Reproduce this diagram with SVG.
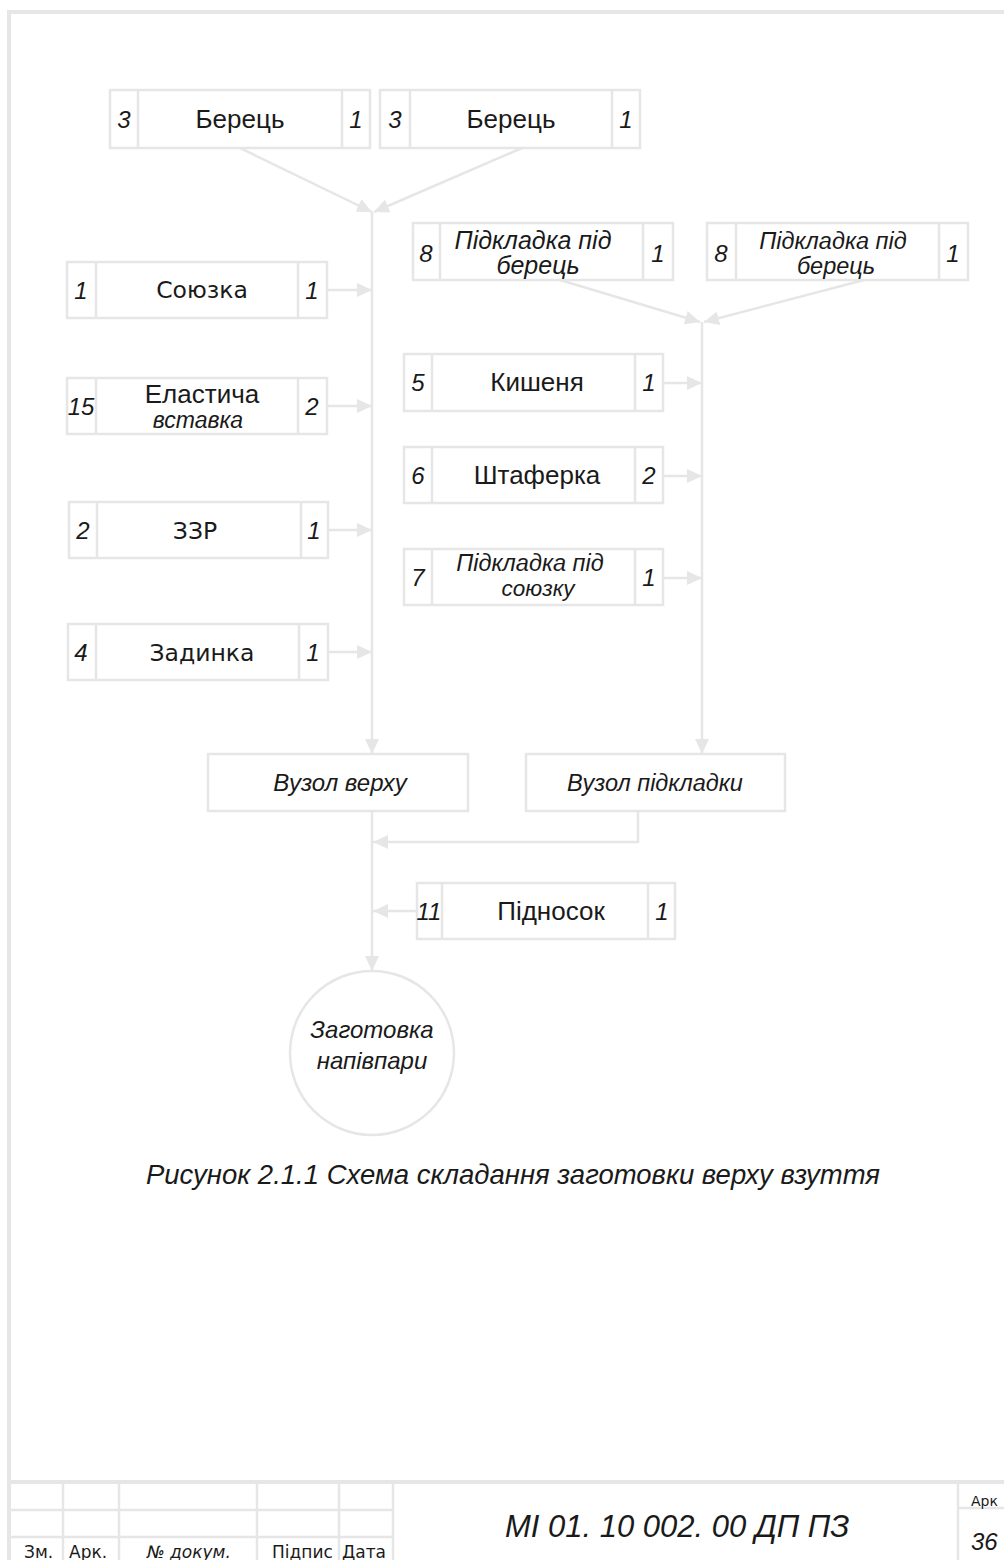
<svg xmlns="http://www.w3.org/2000/svg" width="1004" height="1560" viewBox="0 0 1004 1560">
<style>
.b{fill:#fff;stroke:#e6e6e6;stroke-width:2.5}
.l{fill:none;stroke:#e6e6e6;stroke-width:2.5}
.f{fill:none;stroke:#e6e6e6;stroke-width:4}
.t{font-family:"Liberation Sans",Arial,sans-serif;font-size:24px;fill:#1a1a1a;text-anchor:middle}
.n{font-size:26px}
.d{font-family:"DejaVu Sans",Verdana,sans-serif;font-size:23.5px;fill:#1a1a1a;text-anchor:middle}
.i{font-style:italic}
.st{text-anchor:start}
.s{font-family:"DejaVu Sans",Verdana,sans-serif;font-size:17px;fill:#1a1a1a}
</style>
<defs>
<marker id="a" markerUnits="userSpaceOnUse" markerWidth="16" markerHeight="14" refX="15" refY="7" orient="auto">
<path d="M0,0 L15,7 L0,14 Z" fill="#e6e6e6"/>
</marker>
</defs>
<rect width="1004" height="1560" fill="#fff"/>
<g id="frame">
<path class="f" d="M9,1560 V12 H1004"/>
<path class="f" d="M9,1482 H1004"/>
<path class="l" d="M9,1510 H393 M9,1537 H393 M63,1482 V1560 M119,1482 V1560 M257,1482 V1560 M339,1482 V1560 M393,1482 V1560 M958,1482 V1560 M958,1508 H1004" stroke-width="3"/>
<text class="s" x="24" y="1558">Зм.</text>
<text class="s" x="69" y="1558">Арк.</text>
<text class="s i" x="147" y="1558" font-size="16">№ докум.</text>
<text class="s" x="272" y="1558">Підпис</text>
<text class="s" x="342" y="1558">Дата</text>
<text class="s" x="971" y="1506" style="font-size:14px">Арк</text>
<text class="t i st" x="505" y="1537" style="font-size:31px">МІ 01. 10 002. 00 ДП ПЗ</text>
<text class="t i st" x="971" y="1550">36</text>
</g>
<g id="connectors">
<path class="l" d="M240,148 L372,212" marker-end="url(#a)"/>
<path class="l" d="M522,148 L374,212" marker-end="url(#a)"/>
<path class="l" d="M372,212 V754" marker-end="url(#a)"/>
<path class="l" d="M327,290 H372" marker-end="url(#a)"/>
<path class="l" d="M327,406 H372" marker-end="url(#a)"/>
<path class="l" d="M328,530 H372" marker-end="url(#a)"/>
<path class="l" d="M328,652 H372" marker-end="url(#a)"/>
<path class="l" d="M560,280 L700,322" marker-end="url(#a)"/>
<path class="l" d="M864,280 L704,322" marker-end="url(#a)"/>
<path class="l" d="M702,322 V754" marker-end="url(#a)"/>
<path class="l" d="M663,383 H702" marker-end="url(#a)"/>
<path class="l" d="M663,476 H702" marker-end="url(#a)"/>
<path class="l" d="M663,578 H702" marker-end="url(#a)"/>
<path class="l" d="M372,811 V971" marker-end="url(#a)"/>
<path class="l" d="M638,811 V842 H373" marker-end="url(#a)"/>
<path class="l" d="M417,911 H373" marker-end="url(#a)"/>
</g>
<g id="n-berets1">
<rect class="b" x="110" y="90" width="260" height="58"/>
<path class="l" d="M138,90 V148 M342,90 V148"/>
<text class="t i" x="124" y="128">3</text>
<text class="t n" x="240" y="128">Берець</text>
<text class="t i" x="356" y="128">1</text>
</g>
<g id="n-berets2">
<rect class="b" x="380" y="90" width="260" height="58"/>
<path class="l" d="M410,90 V148 M612,90 V148"/>
<text class="t i" x="395" y="128">3</text>
<text class="t n" x="511" y="128">Берець</text>
<text class="t i" x="626" y="128">1</text>
</g>
<g id="n-pidkl1">
<rect class="b" x="413" y="223" width="260" height="57"/>
<path class="l" d="M440,223 V280 M643,223 V280"/>
<text class="t i" x="533" y="249" style="font-size:25px">Підкладка під</text>
<text class="t i" x="426" y="262">8</text>
<text class="t i" x="538" y="274" style="font-size:25px">берець</text>
<text class="t i" x="658" y="262">1</text>
</g>
<g id="n-pidkl2">
<rect class="b" x="707" y="223" width="261" height="57"/>
<path class="l" d="M736,223 V280 M939,223 V280"/>
<text class="t i" x="721" y="262">8</text>
<text class="t i" x="833" y="249" style="font-size:23.5px">Підкладка під</text>
<text class="t i" x="836" y="274" style="font-size:23.5px">берець</text>
<text class="t i" x="953" y="262">1</text>
</g>
<g id="n-soyuzka">
<rect class="b" x="67" y="262" width="260" height="56"/>
<path class="l" d="M96,262 V318 M298,262 V318"/>
<text class="t i" x="81" y="299">1</text>
<text class="d" x="202" y="298">Союзка</text>
<text class="t i" x="312" y="299">1</text>
</g>
<g id="n-elast">
<rect class="b" x="67" y="378" width="260" height="56"/>
<path class="l" d="M96,378 V434 M298,378 V434"/>
<text class="t i" x="81" y="415">15</text>
<text class="t n" x="202" y="403">Еластича</text>
<text class="t i" x="198" y="428" style="font-size:23px">вставка</text>
<text class="t i" x="312" y="415">2</text>
</g>
<g id="n-zzr">
<rect class="b" x="69" y="502" width="259" height="56"/>
<path class="l" d="M97,502 V558 M301,502 V558"/>
<text class="t i" x="83" y="539">2</text>
<text class="d" x="195" y="539">ЗЗР</text>
<text class="t i" x="314" y="539">1</text>
</g>
<g id="n-zadynka">
<rect class="b" x="68" y="624" width="260" height="56"/>
<path class="l" d="M96,624 V680 M299,624 V680"/>
<text class="t i" x="81" y="661">4</text>
<text class="d" x="202" y="661">Задинка</text>
<text class="t i" x="313" y="661">1</text>
</g>
<g id="n-kyshenya">
<rect class="b" x="404" y="354" width="259" height="57"/>
<path class="l" d="M432,354 V411 M635,354 V411"/>
<text class="t i" x="418" y="391">5</text>
<text class="t n" x="537" y="391">Кишеня</text>
<text class="t i" x="649" y="391">1</text>
</g>
<g id="n-shtaferka">
<rect class="b" x="404" y="447" width="259" height="56"/>
<path class="l" d="M432,447 V503 M635,447 V503"/>
<text class="t i" x="418" y="484">6</text>
<text class="t n" x="537" y="484">Штаферка</text>
<text class="t i" x="649" y="484">2</text>
</g>
<g id="n-pidkl-soyuz">
<rect class="b" x="404" y="549" width="259" height="56"/>
<path class="l" d="M432,549 V605 M635,549 V605"/>
<text class="t i" x="418" y="586">7</text>
<text class="t i" x="530" y="571" style="font-size:23.5px">Підкладка під</text>
<text class="t i" x="538" y="596" style="font-size:22.5px">союзку</text>
<text class="t i" x="649" y="586">1</text>
</g>
<g id="n-vuzol-verkh">
<rect class="b" x="208" y="754" width="260" height="57"/>
<text class="t i" x="340" y="791">Вузол верху</text>
</g>
<g id="n-vuzol-pidkl">
<rect class="b" x="526" y="754" width="259" height="57"/>
<text class="t i" x="655" y="791" style="font-size:23.5px">Вузол підкладки</text>
</g>
<g id="n-pidnosok">
<rect class="b" x="417" y="883" width="258" height="56"/>
<path class="l" d="M442,883 V939 M648,883 V939"/>
<text class="t i" x="429" y="920">11</text>
<text class="t n" x="551" y="920">Підносок</text>
<text class="t i" x="662" y="920">1</text>
</g>
<g id="n-zagotovka">
<circle class="b" cx="372" cy="1053" r="82"/>
<text class="t i" x="372" y="1038">Заготовка</text>
<text class="t i" x="372" y="1069">напівпари</text>
</g>
<text class="t i" x="513" y="1184" style="font-size:27.5px">Рисунок 2.1.1 Схема складання заготовки верху взуття</text>
</svg>
